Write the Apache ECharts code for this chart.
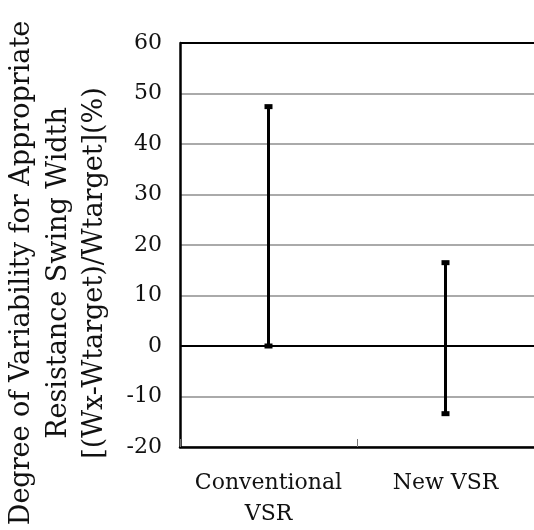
<!DOCTYPE html>
<html><head><meta charset="utf-8">
<script src="https://cdn.jsdelivr.net/npm/echarts@6/dist/echarts.min.js"></script>
<style>html,body{margin:0;padding:0;background:#fff}#c{width:534px;height:530px}</style>
</head><body><div id="c"></div>
<script>
const categories = ['Conventional\nVSR', 'New VSR'];
const highValues = [47.4, 16.5];
const lowValues = [0, -13.4];
const yTicks = [-20, -10, 0, 10, 20, 30, 40, 50, 60];
const titleLines = ['Degree of Variability for Appropriate', 'Resistance Swing Width', '[(Wx-Wtarget)/Wtarget](%)'];

const FONT = 'DejaVu Serif';
const chart = echarts.init(document.getElementById('c'));
const barData = categories.map((c, i) => [i, lowValues[i], highValues[i]]);

chart.setOption({
  animation: false,
  grid: { left: 180, top: 43, width: 357, height: 405, containLabel: false },
  xAxis: {
    type: 'category', data: categories,
    axisLine: { onZero: false, lineStyle: { color: '#000', width: 2.5 } },
    axisTick: { show: true, inside: true, interval: 0, length: 8, lineStyle: { color: '#777', width: 1 } },
    axisLabel: { interval: 0, fontFamily: FONT, fontSize: 22, color: '#111', margin: 21, lineHeight: 31 },
    splitLine: { show: false }
  },
  yAxis: {
    type: 'value', min: yTicks[0], max: yTicks[yTicks.length - 1], interval: 10,
    axisLine: { show: true, onZero: false, lineStyle: { color: '#000', width: 2.5 } },
    axisTick: { show: false },
    axisLabel: { fontFamily: FONT, fontSize: 22, color: '#111', margin: 18 },
    splitLine: { show: true, lineStyle: { color: '#aaa', width: 2 } }
  },
  graphic: titleLines.map((t, i) => ({
    type: 'text', x: 22 + i * 36.5, y: 273, rotation: Math.PI / 2,
    style: { text: t, fontFamily: FONT, fontSize: 27, fill: '#111', align: 'center', verticalAlign: 'middle' }
  })),
  series: [
    {
      type: 'line', data: [], silent: true,
      markLine: {
        symbol: 'none', silent: true, label: { show: false },
        lineStyle: { color: '#000', width: 2, type: 'solid' },
        data: [{ yAxis: 0 }, { yAxis: yTicks[yTicks.length - 1] }]
      }
    },
    {
      type: 'custom', data: barData,
      renderItem: function (params, api) {
        const x = api.value(0);
        const lo = api.coord([x, api.value(1)]);
        const hi = api.coord([x, api.value(2)]);
        const capW = 8, capH = 5;
        return {
          type: 'group',
          children: [
            { type: 'line', shape: { x1: lo[0], y1: lo[1], x2: hi[0], y2: hi[1] }, style: { stroke: '#000', lineWidth: 3 } },
            { type: 'rect', shape: { x: hi[0] - capW / 2, y: hi[1] - capH / 2, width: capW, height: capH }, style: { fill: '#000' } },
            { type: 'rect', shape: { x: lo[0] - capW / 2, y: lo[1] - capH / 2, width: capW, height: capH }, style: { fill: '#000' } }
          ]
        };
      }
    }
  ]
});
</script></body></html>
